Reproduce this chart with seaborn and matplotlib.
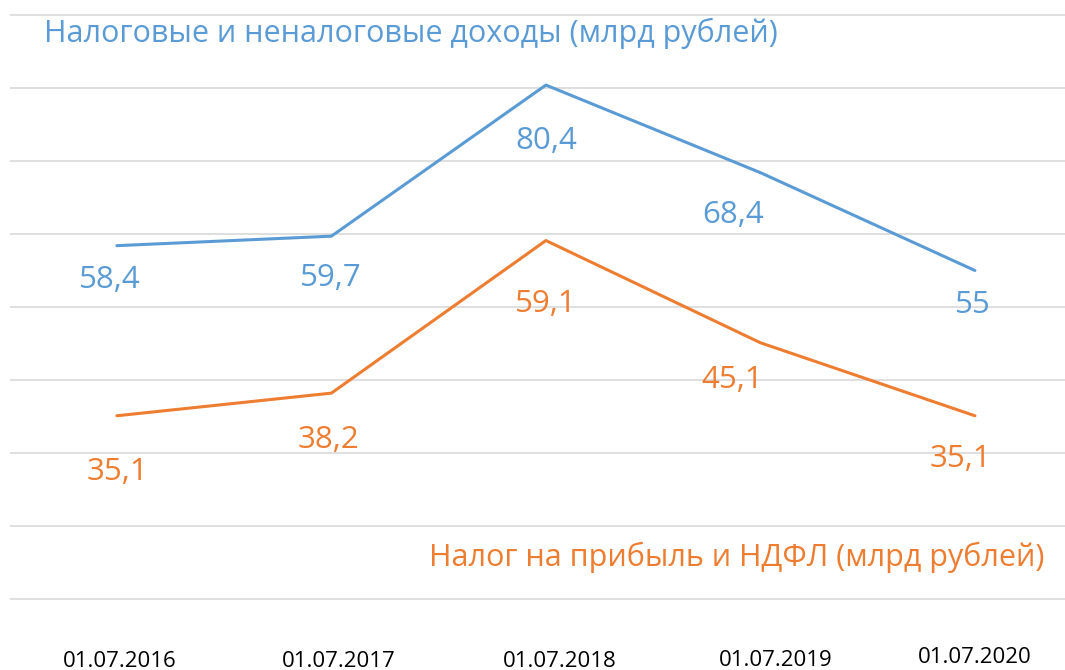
import matplotlib
matplotlib.use("Agg")
import matplotlib.pyplot as plt
import matplotlib.transforms as mtransforms
import seaborn as sns
import pandas as pd

dates = ["01.07.2016", "01.07.2017", "01.07.2018", "01.07.2019", "01.07.2020"]
total_income = [58.4, 59.7, 80.4, 68.4, 55]
profit_tax = [35.1, 38.2, 59.1, 45.1, 35.1]
total_label = "Налоговые и неналоговые доходы (млрд рублей)"
profit_label = "Налог на прибыль и НДФЛ (млрд рублей)"

BLUE = "#5B9BD5"
ORANGE = "#ED7D31"

sns.set_theme(style="white")
plt.rcParams["font.family"] = ["Open Sans", "DejaVu Sans"]

df = pd.DataFrame({
    "x": list(range(len(dates))) * 2,
    "value": total_income + profit_tax,
    "series": [total_label] * len(dates) + [profit_label] * len(dates),
})

fig = plt.figure(figsize=(10.65, 6.7), dpi=100)
ax = fig.add_axes([0, 0, 1, 1])

ax.hlines(range(10, 100, 10), -0.50, 4.50, color="#D9D9D9", lw=1.2, zorder=0)

sns.lineplot(data=df, x="x", y="value", hue="series",
             palette={total_label: BLUE, profit_label: ORANGE},
             lw=2.2, legend=False, ax=ax)

ax.set_xlim(-0.545, 4.42)
ax.set_ylim(0.274, 92.05)

# value label placement (pixels: horizontal shift, distance of digit centre below point)
blue_off = [(-7, 30), (-1, 38), (0, 52), (-27, 38), (-2, 31)]
orange_off = [(1, 52), (-3, 43), (0, 59), (-28, 33), (-14, 39)]
DIGIT_HALF = 12
for vals, offs, col in ((total_income, blue_off, BLUE), (profit_tax, orange_off, ORANGE)):
    for i, v in enumerate(vals):
        dx, dy = offs[i]
        ax.annotate(f"{v:g}".replace(".", ","), (i, v),
                    xytext=(dx, -(dy + DIGIT_HALF)), textcoords="offset pixels",
                    ha="center", va="baseline", color=col, fontsize=22.5)

# series titles
ax.text(44 / 1065, 1 - 42 / 670, total_label, transform=ax.transAxes,
        ha="left", va="baseline", color=BLUE, fontsize=22)
ax.text(1044 / 1065, 1 - 566 / 670, profit_label, transform=ax.transAxes,
        ha="right", va="baseline", color=ORANGE, fontsize=22)

ax.set_xticks(range(len(dates)))
ax.set_xticklabels(dates, fontsize=16, color="black")
ax.tick_params(axis="x", direction="in", length=0, pad=-14)
tick_shift = [3, 7, 14, 15, 0]
tick_rise = [0, 0, 0, 1, 4]
for lab, sx, sy in zip(ax.get_xticklabels(), tick_shift, tick_rise):
    lab.set_transform(lab.get_transform() +
                      mtransforms.ScaledTranslation(sx / 100, sy / 100, fig.dpi_scale_trans))
ax.set_yticks([])
ax.set_xlabel("")
ax.set_ylabel("")
for s in ax.spines.values():
    s.set_visible(False)

fig.savefig("out.png", dpi=100, facecolor="white")
